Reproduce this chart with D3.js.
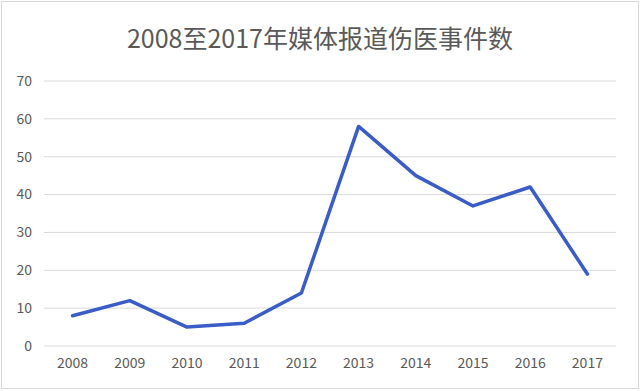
<!DOCTYPE html>
<html>
<head>
<meta charset="utf-8">
<script src="https://cdn.jsdelivr.net/npm/d3@7"></script>
<style>
  body { margin: 0; background: #fff; }
  text { font-family: "Noto Sans CJK SC", "Noto Sans", sans-serif; fill: #595959; }
</style>
</head>
<body>
<script>
//Width and height
var width = 640;
var height = 391;

var years = ["2008", "2009", "2010", "2011", "2012", "2013", "2014", "2015", "2016", "2017"];
var counts = [8, 12, 5, 6, 14, 58, 45, 37, 42, 19];
var yTicks = [0, 10, 20, 30, 40, 50, 60, 70];
var title = "2008至2017年媒体报道伤医事件数";

var margin = {top: 81, right: 24, bottom: 45, left: 44};

var svg = d3.select("body")
	.append("svg")
	.attr("width", width)
	.attr("height", height);

//outer frame
svg.append("rect")
	.attr("x", 1.5)
	.attr("y", 1.5)
	.attr("width", width - 3)
	.attr("height", height - 4)
	.attr("fill", "none")
	.attr("stroke", "#d9d9d9");

var x = d3.scaleBand()
	.domain(years)
	.range([margin.left, width - margin.right]);

var y = d3.scaleLinear()
	.domain([0, 70])
	.range([height - margin.bottom, margin.top]);

//gridlines
svg.append("g")
	.selectAll("line")
	.data(yTicks)
	.enter()
	.append("line")
	.attr("x1", margin.left)
	.attr("x2", width - margin.right)
	.attr("y1", function(d) { return y(d); })
	.attr("y2", function(d) { return y(d); })
	.attr("stroke", "#d9d9d9")
	.attr("stroke-width", 1);

//y labels
svg.append("g")
	.selectAll("text")
	.data(yTicks)
	.enter()
	.append("text")
	.attr("x", 32)
	.attr("y", function(d) { return y(d); })
	.attr("dy", "0.35em")
	.attr("text-anchor", "end")
	.attr("font-size", 14)
	.text(function(d) { return d; });

//x labels
svg.append("g")
	.selectAll("text")
	.data(years)
	.enter()
	.append("text")
	.attr("x", function(d) { return x(d) + x.bandwidth() / 2; })
	.attr("y", height - margin.bottom + 22)
	.attr("text-anchor", "middle")
	.attr("font-size", 14)
	.text(function(d) { return d; });

var line = d3.line()
	.x(function(d, i) { return x(years[i]) + x.bandwidth() / 2; })
	.y(function(d) { return y(d); });

svg.append("path")
	.datum(counts)
	.attr("d", line)
	.attr("fill", "none")
	.attr("stroke", "#3a5cc6")
	.attr("stroke-width", 3.5)
	.attr("stroke-linejoin", "round")
	.attr("stroke-linecap", "round");

svg.append("text")
	.attr("x", width / 2)
	.attr("y", 48)
	.attr("text-anchor", "middle")
	.attr("font-size", 25)
	.text(title);
</script>
</body>
</html>
